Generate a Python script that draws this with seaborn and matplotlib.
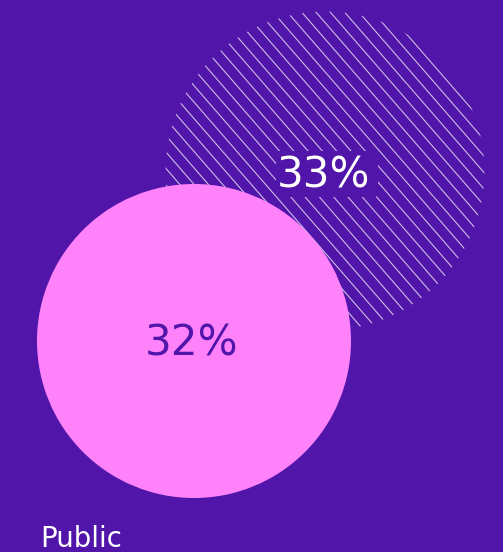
import numpy as np
import matplotlib
matplotlib.use("Agg")
import matplotlib.pyplot as plt
from matplotlib.patches import Circle, FancyBboxPatch
import seaborn as sns

# Share values shown as bubbles (area proportional to the value)
segments = ["Private", "Public"]
shares = [33, 32]
label_texts = ["33%", "32%"]
category_label = "Public"

BG = "#5115A9"
PINK = "#FF82FB"

sns.set_theme(style="white", rc={
    "figure.facecolor": BG,
    "axes.facecolor": BG,
})
plt.rcParams["font.family"] = ["DejaVu Sans"]

DPI = 100
W, H = 503, 552
fig = plt.figure(figsize=(W / DPI, H / DPI), dpi=DPI)
ax = fig.add_axes([0, 0, 1, 1])
ax.set_xlim(0, W)
ax.set_ylim(H, 0)
ax.set_aspect("equal")
ax.axis("off")

# bubble radius grows with the square root of the share
scale = 157 / np.sqrt(32)
centers = {"Private": (325, 171), "Public": (194, 341)}


def radius(v):
    return scale * np.sqrt(v)


# hatched bubble: diagonal stripes clipped to an invisible circle
cx, cy = centers[segments[0]]
r0 = radius(shares[0])
clip = Circle((cx, cy), r0, facecolor="none", edgecolor="none", zorder=1)
ax.add_patch(clip)
spacing = 14.3          # horizontal distance between stripes
slope = 1.15            # stripes run down to the right
offsets = np.arange(cx - r0 - slope * r0 - 2 * spacing,
                    cx + r0 + slope * r0 + 2 * spacing, spacing)
for x0 in offsets:
    ys = np.array([cy - r0 - 5, cy + r0 + 5])
    xs = x0 + (ys - cy) / slope
    ln, = ax.plot(xs, ys, color="white", alpha=0.72, lw=1.1 * 72 / DPI,
                  solid_capstyle="butt", zorder=1)
    ln.set_clip_path(clip)

# solid bubble
px, py = centers[segments[1]]
ax.add_patch(Circle((px, py), radius(shares[1]), facecolor=PINK,
                    edgecolor="none", zorder=2))

fs = 42 * 72 / DPI

# backing plate behind the top label
ax.add_patch(FancyBboxPatch((276, 151), 102, 46,
                            boxstyle="round,pad=0,rounding_size=4",
                            facecolor=BG, edgecolor="none", zorder=4))
ax.text(cx - 1, cy + 4, label_texts[0], color="white", fontsize=fs,
        ha="center", va="center", zorder=5)
ax.text(px - 2, py + 2, label_texts[1], color=BG, fontsize=fs,
        ha="center", va="center", zorder=5)

ax.text(40, 547, category_label, color="white", fontsize=27.5 * 72 / DPI,
        ha="left", va="baseline", zorder=5)

fig.savefig("out.png", dpi=DPI, facecolor=BG)
